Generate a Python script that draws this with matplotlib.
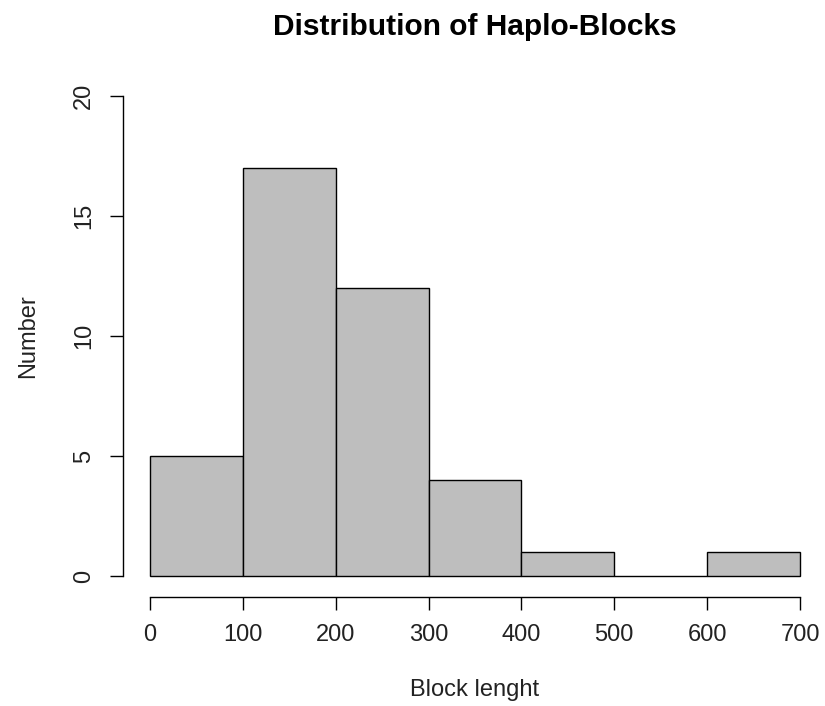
import matplotlib
matplotlib.use("Agg")
import matplotlib.pyplot as plt
import numpy as np

plt.rcParams['font.family'] = ['Liberation Sans', 'DejaVu Sans']

bin_edges = [0, 100, 200, 300, 400, 500, 600, 700]
counts = [5, 17, 12, 4, 1, 0, 1]
x_ticks = [0, 100, 200, 300, 400, 500, 600, 700]
y_ticks = [0, 5, 10, 15, 20]
title = "Distribution of Haplo-Blocks"
xlabel = "Block lenght"
ylabel = "Number"

W, H = 825, 706
fig = plt.figure(figsize=(W / 100, H / 100), dpi=100)

# pixel geometry
x0_px, x700_px = 150, 800
y0_px, y20_px = 576, 96
xu = (x700_px - x0_px) / 700.0
yu = (y0_px - y20_px) / 20.0
left_px = 123
right_px = x700_px + (x0_px - left_px)
top_px = y20_px - (y0_px - y20_px) * 0.04
bottom_px = y0_px + (y0_px - y20_px) * 0.04

ax = fig.add_axes([left_px / W, 1 - bottom_px / H,
                   (right_px - left_px) / W, (bottom_px - top_px) / H])
ax.set_xlim(-(x0_px - left_px) / xu, 700 + (right_px - x700_px) / xu)
ax.set_ylim(-(bottom_px - y0_px) / yu, 20 + (y20_px - top_px) / yu)

edges = np.array(bin_edges, dtype=float)
widths = np.diff(edges)
ax.bar(edges[:-1], counts, width=widths, align='edge', color='#BEBEBE',
       edgecolor='black', linewidth=1.0)

for s in ['top', 'right']:
    ax.spines[s].set_visible(False)
ax.spines['left'].set_bounds(0, 20)
ax.spines['bottom'].set_bounds(0, 700)
ax.spines['bottom'].set_position(('data', -(597 - y0_px) / yu))
for s in ['left', 'bottom']:
    ax.spines[s].set_linewidth(1.0)

ax.set_xticks(x_ticks)
ax.set_yticks(y_ticks)
ax.tick_params(axis='both', direction='out', length=9.4, width=1.0,
               labelsize=17, labelcolor='#222222')
ax.tick_params(axis='x', pad=9.7)
ax.tick_params(axis='y', pad=10.8)
for lab in ax.get_yticklabels():
    lab.set_rotation(90)
    lab.set_va('center')

cx = (left_px + right_px) / 2 / W
fig.text(cx, 1 - 35 / H, title, ha='center', va='baseline',
         fontsize=21.5, fontweight='bold')
fig.text(cx, 1 - 696 / H, xlabel, ha='center', va='baseline',
         fontsize=17, color='#222222')
fig.text(34 / W, 1 - 336 / H, ylabel, ha='center', va='baseline', rotation=90,
         rotation_mode='anchor', fontsize=17, color='#222222')

fig.savefig("out.png", dpi=100)
